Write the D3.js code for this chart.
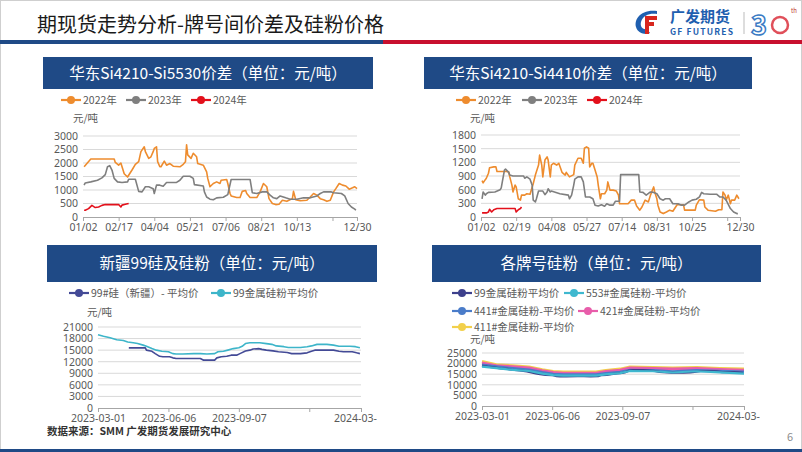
<!DOCTYPE html>
<html><head><meta charset="utf-8">
<script src="https://cdn.jsdelivr.net/npm/d3@7"></script>
<style>
html,body{margin:0;padding:0;background:#fff;}
svg{display:block;font-family:"Noto Sans CJK SC","Noto Sans",sans-serif;}
</style></head>
<body>
<svg id="s" width="802" height="452"></svg>
<script>
// ---------------- DATA ----------------
// Chart 1: 华东Si4210-Si5530价差 (x = trading-day index of year)
const c1Ticks = [0,32,64,96,128,160,192,224,246];
const c1TickLabels = ["01/02","02/17","04/04","05/21","07/06","08/21","10/13","","12/30"];
const c1Legend = ["2022年","2023年","2024年"];
const s5530_2022 = [[1,1860],[7,2150],[28,2150],[29,2020],[32,1920],[34,2000],[37,1600],[40,1480],[44,1740],[47,1950],[50,2050],[52,2420],[55,2600],[56,2420],[59,2170],[61,2230],[63,2420],[64,2540],[66,2600],[67,2050],[69,1860],[70,1860],[73,2070],[75,1920],[78,1980],[81,1880],[87,1860],[90,1950],[92,2050],[93,2670],[94,2300],[97,2170],[99,2360],[102,2230],[103,1980],[108,1920],[111,1670],[112,1430],[114,1120],[117,1240],[120,1300],[123,1240],[124,1360],[129,1390],[130,1240],[132,870],[133,780],[138,720],[141,720],[143,950],[146,980],[147,870],[150,720],[156,720],[159,930],[162,1240],[165,1120],[167,680],[170,500],[173,460],[176,470],[179,620],[183,580],[188,680],[189,950],[191,640],[195,600],[201,620],[204,740],[207,870],[210,810],[213,680],[216,640],[219,580],[222,620],[225,930],[227,1050],[230,1240],[233,1180],[236,1150],[239,1030],[242,1080],[244,1120],[246,1050]];
const s5530_2023 = [[1,1180],[2,1260],[7,1300],[13,1360],[17,1450],[20,1570],[22,1860],[24,1900],[26,1740],[28,1430],[31,1300],[35,1280],[40,1300],[41,1400],[47,1400],[50,950],[53,930],[56,1120],[59,1120],[63,1050],[64,870],[66,1180],[69,1180],[72,1140],[75,1280],[84,1280],[87,1360],[90,1510],[96,1510],[99,1430],[100,1200],[108,1150],[109,930],[111,740],[114,660],[117,640],[120,710],[126,730],[130,830],[133,1390],[150,1390],[152,900],[156,870],[161,930],[165,930],[168,810],[171,710],[174,680],[177,780],[182,710],[186,660],[192,660],[198,710],[204,710],[210,780],[213,870],[216,930],[223,930],[225,900],[232,870],[235,780],[238,500],[241,370],[244,290],[245,250]];
const s5530_2024 = [[1,250],[2,250],[5,310],[8,430],[11,350],[14,370],[17,430],[20,460],[32,460],[34,370],[35,440],[38,470],[41,500]];

// Chart 2: 华东Si4210-Si4410价差
const c2Ticks = [0,33,66,99,132,165,198,231,243];
const c2TickLabels = ["01/02","02/19","04/08","05/27","07/14","08/31","10/25","","12/30"];
const s4410_2022 = [[1,800],[2,750],[4,820],[5,850],[7,960],[8,1080],[12,1100],[14,1100],[15,1000],[24,1000],[26,990],[27,880],[29,700],[30,550],[32,700],[33,660],[35,400],[37,370],[38,480],[41,480],[43,510],[46,500],[49,730],[51,920],[54,1140],[55,1360],[57,1140],[58,880],[60,1250],[62,1320],[63,1250],[65,880],[66,1140],[68,1180],[71,1140],[73,1180],[76,980],[79,920],[80,980],[83,880],[87,930],[88,1140],[91,1290],[94,1290],[96,1180],[97,1510],[99,1540],[101,1510],[102,1100],[104,1180],[105,1180],[107,1030],[109,880],[110,700],[112,400],[113,510],[116,510],[118,590],[119,770],[121,590],[124,590],[127,570],[129,480],[130,290],[138,290],[141,370],[144,370],[146,240],[149,150],[151,220],[154,370],[157,330],[159,480],[162,660],[163,550],[165,400],[166,260],[168,110],[171,75],[174,110],[177,150],[180,125],[184,270],[190,270],[191,150],[201,150],[202,260],[205,380],[209,370],[210,220],[213,150],[220,125],[223,160],[226,160],[227,550],[229,480],[230,370],[232,480],[234,290],[235,370],[238,370],[240,480],[242,400]];
const s4410_2023 = [[1,400],[2,550],[4,480],[5,510],[7,540],[13,550],[18,600],[19,640],[20,770],[22,1030],[23,1050],[26,980],[27,920],[30,900],[40,900],[41,850],[43,880],[46,830],[48,700],[49,370],[51,330],[52,400],[54,570],[58,570],[60,490],[62,550],[63,620],[65,550],[66,570],[74,510],[82,480],[83,400],[85,480],[87,700],[88,830],[91,880],[94,880],[96,770],[98,440],[102,440],[105,400],[107,260],[110,240],[113,270],[116,235],[118,290],[121,260],[124,260],[126,345],[130,345],[131,930],[148,930],[149,550],[152,540],[155,480],[159,550],[162,540],[165,510],[168,400],[171,370],[173,400],[177,400],[180,290],[185,290],[188,260],[191,260],[195,330],[198,370],[202,390],[205,440],[207,540],[209,510],[215,500],[221,500],[224,440],[227,440],[230,370],[234,185],[237,110],[240,75],[241,75]];
const s4410_2024 = [[1,90],[5,90],[7,110],[8,170],[10,110],[12,160],[15,185],[32,185],[33,110],[35,160],[37,185],[38,220]];

// Chart 3 & 4: 2023-03-01 .. 2024-03-01 (x = trading-day index)
const c3Ticks = [0,64,128,192,239];
const c3TickLabels = ["2023-03-01","2023-06-06","2023-09-07","","2024-03-01"];
const si99Xinjiang = [[28,15600],[43,15600],[44,15000],[49,14700],[52,14100],[56,13400],[59,13300],[65,13300],[68,13000],[71,12850],[93,12850],[96,12400],[106,12400],[108,13000],[112,13300],[117,13400],[121,13700],[126,13700],[129,14100],[134,14800],[138,15000],[141,15300],[146,15400],[149,15200],[153,15000],[159,14800],[164,14600],[172,14400],[176,14100],[184,14100],[190,14300],[194,14700],[197,15000],[214,15000],[219,14700],[223,14600],[231,14600],[235,14300],[238,14100]];
const powder99 = [[0,19000],[5,18600],[11,18200],[17,17700],[23,17500],[27,17100],[32,16900],[36,16700],[41,16300],[44,16000],[49,15400],[53,15000],[58,14700],[64,14600],[68,14100],[71,14000],[77,14000],[87,14100],[93,14100],[99,14000],[106,14100],[109,14600],[114,14700],[118,15000],[123,15400],[128,15600],[131,16000],[134,16700],[138,16900],[147,16900],[153,16700],[158,16500],[162,16100],[169,15900],[173,15700],[184,15700],[190,15900],[194,16100],[199,16500],[208,16500],[214,16300],[219,16000],[229,16000],[234,15900],[238,15600]];
const powder553 = [[0,18600],[13,17900],[28,17000],[43,16500],[55,15300],[65,14600],[74,14300],[104,14300],[113,14900],[126,15500],[135,16500],[156,16400],[174,15800],[196,16400],[217,15900],[239,15300]];
const powder441 = [[0,19300],[13,18500],[28,17700],[43,17000],[55,15800],[65,15000],[74,14700],[104,14700],[113,15300],[126,15900],[135,16900],[156,16800],[174,16200],[196,16800],[217,16400],[239,16000]];
const powder421 = [[0,20300],[13,19000],[28,18500],[43,17900],[55,16600],[65,15800],[74,15500],[104,15500],[113,16300],[126,16900],[135,17900],[156,17700],[174,17400],[196,17700],[217,17200],[239,16900]];
const powder411 = [[0,21000],[13,19500],[28,19000],[43,18400],[55,17100],[65,16300],[74,16000],[104,16000],[113,16800],[126,17400],[135,18400],[156,18200],[174,17900],[196,18200],[217,17700],[239,17400]];

// ---------------- DRAW ----------------
const svg = d3.select("#s");
const BLUE = "#1F4A86", RED = "#C8102E";
const TXT = "#595959", GRID = "#D9D9D9";
const FS = 10.5;

svg.append("rect").attr("x",0.5).attr("y",0.5).attr("width",801).attr("height",451).attr("fill","#fff").attr("stroke","#cfcfcf");
svg.append("text").attr("x",37).attr("y",32).attr("font-size",20).attr("fill","#1a1a1a").text("期现货走势分析-牌号间价差及硅粉价格");
svg.append("rect").attr("x",0).attr("y",40).attr("width",383).attr("height",4).attr("fill",BLUE);
svg.append("rect").attr("x",383).attr("y",40).attr("width",419).attr("height",4).attr("fill",RED);
svg.append("rect").attr("x",0).attr("y",449).attr("width",802).attr("height",3).attr("fill",BLUE);
svg.append("text").attr("x",787).attr("y",441).attr("font-size",11).attr("fill","#8c8c8c").text("6");

// logo
const lg = svg.append("g");
lg.append("path").attr("d","M657,11 C640,9 634,20 636,27 C638,34 646,35 650,33 L647,29 C642,30 640,26 641,22 C643,15 650,13 657,14 Z").attr("fill","#1F5FAF");
lg.append("rect").attr("x",645).attr("y",16).attr("width",12).attr("height",4).attr("fill","#D7261E");
lg.append("rect").attr("x",645).attr("y",22).attr("width",9).attr("height",4).attr("fill","#D7261E");
lg.append("rect").attr("x",645).attr("y",16).attr("width",4).attr("height",18).attr("fill","#D7261E");
lg.append("text").attr("x",670).attr("y",22).attr("font-size",15).attr("font-weight","bold").attr("fill","#1F5FAF").text("广发期货");
lg.append("text").attr("x",670).attr("y",35).attr("font-size",8.5).attr("font-weight","bold").attr("fill","#1F5FAF").attr("textLength",63).text("GF FUTURES");
lg.append("line").attr("x1",744).attr("x2",744).attr("y1",12).attr("y2",34).attr("stroke","#bbb");
lg.append("text").attr("x",751).attr("y",35).attr("font-size",27).attr("font-weight","bold").attr("fill","none").attr("stroke","#3b7bc4").attr("stroke-width",1.5).text("3");
lg.append("circle").attr("cx",780).attr("cy",25).attr("r",8).attr("fill","none").attr("stroke","#e0505a").attr("stroke-width",2.5);
lg.append("text").attr("x",791).attr("y",13).attr("font-size",6).attr("fill","#c0392b").text("th");

function header(x,y,w,h,txt){
  svg.append("rect").attr("x",x).attr("y",y).attr("width",w).attr("height",h).attr("fill",BLUE);
  svg.append("text").attr("x",x+w/2).attr("y",y+h/2+5.5).attr("text-anchor","middle").attr("font-size",15.5).attr("fill","#fff").text(txt);
}
header(43,57,330,32,"华东Si4210-Si5530价差（单位：元/吨）");
header(424,57,328,32,"华东Si4210-Si4410价差（单位：元/吨）");
header(47,245,330,37,"新疆99硅及硅粉（单位：元/吨）");
header(432,245,329,37,"各牌号硅粉（单位：元/吨）");

function legendItem(x0,y,color,label){
  svg.append("line").attr("x1",x0).attr("x2",x0+20).attr("y1",y).attr("y2",y).attr("stroke",color).attr("stroke-width",2.2);
  svg.append("circle").attr("cx",x0+10).attr("cy",y).attr("r",4).attr("fill",color);
  svg.append("text").attr("x",x0+22).attr("y",y+4).attr("font-size",10.5).attr("fill",TXT).text(label);
}

let clipId = 0;
function chart(o){
  const x = d3.scaleLinear().domain(o.xDomain).range([o.x0,o.x1]);
  const y = d3.scaleLinear().domain(o.yDomain).range([o.yb,o.yt]);
  const g = svg.append("g");
  g.selectAll("line.grid").data(o.yTicks.filter(v=>v>0)).join("line")
    .attr("x1",o.x0).attr("x2",o.x1).attr("y1",d=>y(d)).attr("y2",d=>y(d))
    .attr("stroke",GRID).attr("stroke-width",1);
  const ya = g.append("g").attr("transform",`translate(${o.x0-4},0)`)
    .call(d3.axisLeft(y).tickValues(o.yTicks).tickFormat(d3.format("d")).tickSize(0).tickPadding(1));
  ya.select(".domain").remove();
  ya.selectAll("text").attr("font-size",FS).attr("fill",TXT).attr("font-family","'Noto Sans','DejaVu Sans',sans-serif");
  clipId++;
  svg.append("clipPath").attr("id","c"+clipId).append("rect").attr("x",o.x0-60).attr("y",-2).attr("width",o.clipR-(o.x0-60)).attr("height",30);
  const xa = g.append("g").attr("transform",`translate(0,${o.yb})`).attr("clip-path",`url(#c${clipId})`)
    .call(d3.axisBottom(x).tickValues(o.xTicks).tickFormat((d,i)=>o.xLabels[i]).tickSize(4).tickSizeOuter(0).tickPadding(3));
  xa.select(".domain").attr("stroke","#A6A6A6");
  xa.selectAll(".tick line").attr("stroke","#A6A6A6");
  xa.selectAll("text").attr("font-size",FS).attr("fill",TXT).attr("font-family","'Noto Sans','DejaVu Sans',sans-serif");
  svg.append("text").attr("x",o.unitX).attr("y",o.unitY).attr("font-size",10.5).attr("fill",TXT).text("元/吨");
  const line = d3.line().x(d=>x(d[0])).y(d=>y(d[1]));
  o.series.forEach(s=>{
    g.append("path").datum(s.data).attr("d",line).attr("fill","none")
      .attr("stroke",s.color).attr("stroke-width",s.w||1.6).attr("stroke-linejoin","round");
  });
}

const OR = "#EE8C2E", GR = "#7F7F7F", RD = "#E3101B";
legendItem(61,100,OR,c1Legend[0]); legendItem(126,100,GR,c1Legend[1]); legendItem(191,100,RD,c1Legend[2]);
chart({x0:83,x1:357,yb:217,yt:136,xDomain:[0,246],yDomain:[0,3000],yTicks:[0,500,1000,1500,2000,2500,3000],
  xTicks:c1Ticks,xLabels:c1TickLabels,clipR:380,unitX:73,unitY:122,
  series:[{data:s5530_2022,color:OR},{data:s5530_2023,color:GR},{data:s5530_2024,color:RD}]});
legendItem(456,100,OR,c1Legend[0]); legendItem(522,100,GR,c1Legend[1]); legendItem(587,100,RD,c1Legend[2]);
chart({x0:481,x1:740,yb:217,yt:135,xDomain:[0,243],yDomain:[0,1800],yTicks:[0,300,600,900,1200,1500,1800],
  xTicks:c2Ticks,xLabels:c2TickLabels,clipR:780,unitX:470,unitY:122,
  series:[{data:s4410_2022,color:OR},{data:s4410_2023,color:GR},{data:s4410_2024,color:RD}]});
const NV = "#434A96", TL = "#3DB5C9";
legendItem(69,293,NV,"99#硅（新疆）- 平均价"); legendItem(211,293,TL,"99金属硅粉平均价");
chart({x0:98,x1:361,yb:408,yt:327,xDomain:[0,239],yDomain:[0,21000],yTicks:[0,3000,6000,9000,12000,15000,18000,21000],
  xTicks:c3Ticks,xLabels:c3TickLabels,clipR:377,unitX:87,unitY:316,
  series:[{data:si99Xinjiang,color:NV},{data:powder99,color:TL}]});
svg.append("text").attr("x",47).attr("y",435).attr("font-size",10.5).attr("font-weight","bold").attr("fill","#333").text("数据来源：SMM 广发期货发展研究中心");
const C4NV="#3D408C", C4TL="#3FB8CF", C4BL="#4A7CC9", C4PK="#E85DAA", C4YL="#F2D04B";
legendItem(452,293,C4NV,"99金属硅粉平均价");
legendItem(564,293,C4TL,"553#金属硅粉-平均价");
legendItem(452,311,C4BL,"441#金属硅粉-平均价");
legendItem(578,311,C4PK,"421#金属硅粉-平均价");
legendItem(452,327,C4YL,"411#金属硅粉-平均价");
chart({x0:482,x1:744,yb:406,yt:353,xDomain:[0,239],yDomain:[0,25000],yTicks:[0,5000,10000,15000,20000,25000],
  xTicks:c3Ticks,xLabels:c3TickLabels,clipR:760,unitX:470,unitY:343,
  series:[{data:powder411,color:C4YL,w:3},{data:powder421,color:C4PK,w:3},{data:powder441,color:C4BL,w:3},{data:powder99,color:C4NV,w:2.2},{data:powder553,color:C4TL,w:2.2}]});
</script>
</body></html>
